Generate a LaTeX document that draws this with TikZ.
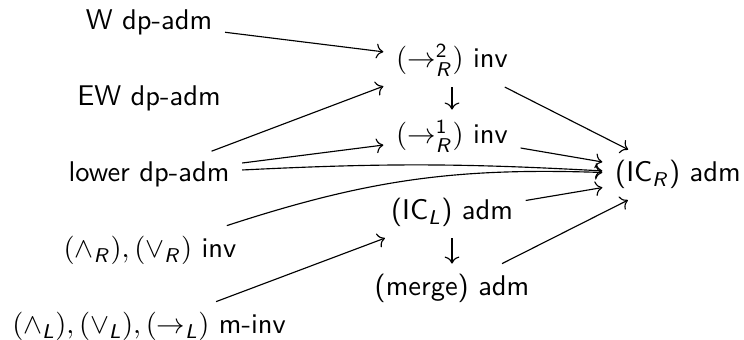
\documentclass[tikz,border=0pt]{standalone}
\usepackage{amsmath}
\usepackage{tikz}
\usetikzlibrary{arrows.meta}
\DeclareMathAlphabet{\mathsfit}{OT1}{cmss}{m}{sl}
\newcommand{\sidR}{\mathsfit{R}}
\newcommand{\sidL}{\mathsfit{L}}
\tikzset{
  cell/.style={anchor=base,inner xsep=1ex,inner ysep=0.85ex},
  imp/.style={-{To},line width=0.4pt}
}

\begin{document}
\begin{tikzpicture}[x=0.351pt,y=-0.351pt,font=\sffamily]
  \useasboundingbox (0,0) rectangle (744,340);
  \node[cell] (w)     at (149,30)  {W dp-adm};
  \node[cell] (ew)    at (149,106) {EW dp-adm};
  \node[cell] (lower) at (149,182) {lower dp-adm};
  \node[cell] (andr)  at (150,258) {$(\wedge_\sidR), (\vee_\sidR)$ inv};
  \node[cell] (andl)  at (149,334) {$(\wedge_\sidL), (\vee_\sidL), (\to_\sidL)$ m-inv};
  \node[cell] (impr2) at (452,68)  {$(\to^{\mathsf{2}}_\sidR)$ inv};
  \node[cell] (impr1) at (452,144) {$(\to^{\mathsf{1}}_\sidR)$ inv};
  \node[cell] (icl)   at (452,220) {(IC$_\sidL$) adm};
  \node[cell] (merge) at (452,296) {(merge) adm};
  \node[cell] (icr)   at (678,182) {(IC$_\sidR$) adm};
  \draw[imp] (w) -- (impr2);
  \draw[imp] (lower) -- (impr2);
  \draw[imp] (lower) -- (impr1);
  \draw[imp] (lower) to[bend left=3] (icr);
  \draw[imp] (andr) to[bend left=10] (icr);
  \draw[imp] (andl) -- (icl);
  \draw[imp] (impr2) -- (impr1);
  \draw[imp] (impr2) -- (icr);
  \draw[imp] (impr1) -- (icr);
  \draw[imp] (icl) -- (icr);
  \draw[imp] (icl) -- (merge);
  \draw[imp] (merge) -- (icr);
\end{tikzpicture}
\end{document}
